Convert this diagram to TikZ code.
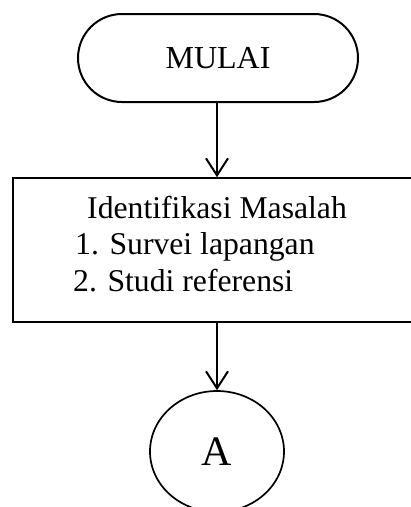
\documentclass[tikz,border=0pt]{standalone}
\usepackage{fontspec}
\setmainfont{Liberation Serif}
\usetikzlibrary{arrows.meta,shapes.geometric}
\begin{document}
\begin{tikzpicture}[x=1pt,y=-1pt,
  terminal/.style={draw,line width=2pt,rounded corners=44pt,minimum width=280pt,minimum height=88pt,inner sep=0pt,font=\fontsize{32}{36}\selectfont},
  procbox/.style={draw,line width=1.6pt,minimum width=410pt,minimum height=144pt,inner sep=0pt},
  btext/.style={anchor=base west,inner sep=0pt,font=\fontsize{31.7}{36}\selectfont},
  connector/.style={draw,ellipse,line width=1.7pt,minimum width=134pt,minimum height=121pt,inner sep=0pt,font=\fontsize{42}{46}\selectfont},
  flow/.style={line width=2pt,-{Straight Barb[length=17pt,width=22pt,line width=2pt]}}]
\useasboundingbox (0,0) rectangle (411,507);
\clip (0,0) rectangle (411,507);
\node[terminal] (mulai) at (218,58) {MULAI};
\node[procbox] (box) at (218,250) {};
\node[btext] (t1) at (87,218) {Identifikasi Masalah};
\node[btext] (t2) at (75,254) {1. Survei lapangan};
\node[btext] (t3) at (73,291) {2. Studi referensi};
\node[connector] (a) at (217,451.5) {A};
\draw[flow] (mulai.south -| a.north) -- (box.north -| a.north);
\draw[flow] (box.south -| a.north) -- (a.north);
\end{tikzpicture}
\end{document}
